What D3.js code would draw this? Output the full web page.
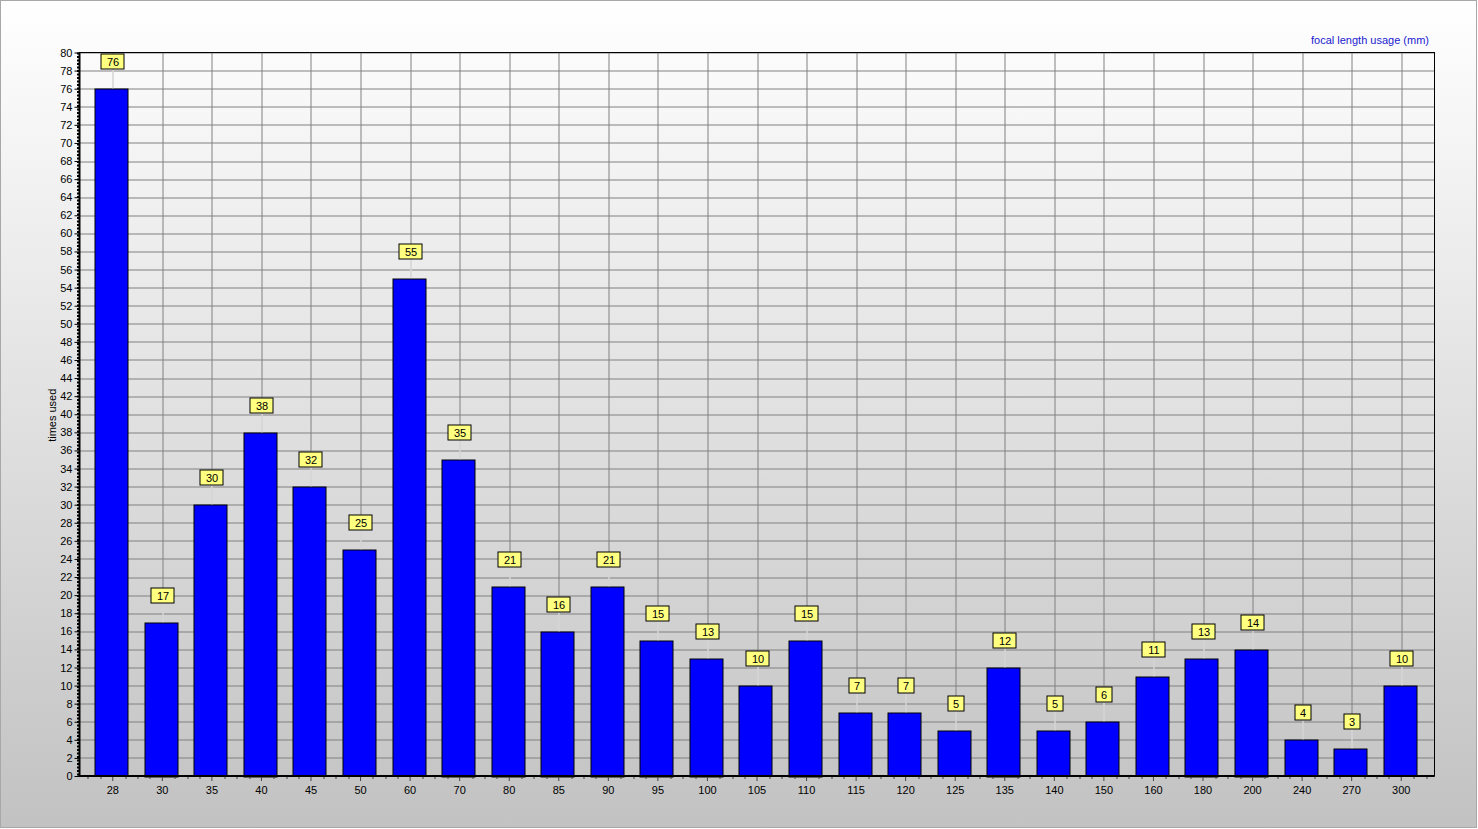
<!DOCTYPE html>
<html>
<head>
<meta charset="utf-8">
<script src="https://cdn.jsdelivr.net/npm/d3@7"></script>
<style>
  body { margin: 0; padding: 0; overflow: hidden; }
  svg text { font-family: "Liberation Sans", Arial, sans-serif; }
</style>
</head>
<body>
<div class="chart"></div>
<script>
// focal length categories (mm) and how often each was used
var focalLengths = ["28", "30", "35", "40", "45", "50", "60", "70", "80", "85", "90", "95", "100", "105",
    "110", "115", "120", "125", "135", "140", "150", "160", "180", "200", "240", "270", "300"];
var timesUsed = [76, 17, 30, 38, 32, 25, 55, 35, 21, 16, 21, 15, 13, 10,
    15, 7, 7, 5, 12, 5, 6, 11, 13, 14, 4, 3, 10];
var yTicks = d3.range(0, 81, 2);

var svgWidth = 1478;
var svgHeight = 829;
var margin = {top: 52.5, right: 43.5, bottom: 53, left: 79.5};
var width = svgWidth - margin.left - margin.right;
var height = svgHeight - margin.top - margin.bottom;
var pad = 8.5;

var data = focalLengths.map(function(f, i) {
    return {focal: f, count: timesUsed[i]};
});

var svg = d3.select(".chart")
    .append("svg")
    .attr("width", svgWidth)
    .attr("height", svgHeight);

// background gradient
var grad = svg.append("defs").append("linearGradient")
    .attr("id", "bg")
    .attr("x1", 0).attr("y1", 0).attr("x2", 0).attr("y2", 1);
grad.append("stop").attr("offset", "0%").attr("stop-color", "#ffffff");
grad.append("stop").attr("offset", "100%").attr("stop-color", "#c2c2c2");

svg.append("rect")
    .attr("x", 0.5).attr("y", 0.5)
    .attr("width", svgWidth - 2).attr("height", svgHeight - 2)
    .attr("fill", "url(#bg)")
    .attr("stroke", "#a8a8a8");

var chart = svg.append("g")
    .attr("transform", "translate(" + margin.left + "," + margin.top + ")");

// scales
var xBandScale = d3.scaleBand()
    .domain(focalLengths)
    .range([pad, width - pad])
    .paddingInner(0.33)
    .paddingOuter(0.165);
var step = xBandScale.step();
var xCenter = function(f) { return xBandScale(f) + xBandScale.bandwidth() / 2; };

var yLinearScale = d3.scaleLinear().domain([0, 80]).range([height, 0]);

// horizontal grid
chart.append("g")
    .selectAll("line")
    .data(yTicks.slice(1))
    .enter().append("line")
    .attr("x1", 0).attr("x2", width)
    .attr("y1", function(d) { return Math.round(yLinearScale(d)) + 0.5; })
    .attr("y2", function(d) { return Math.round(yLinearScale(d)) + 0.5; })
    .attr("stroke", "#808080");

// vertical grid through each category
chart.append("g")
    .selectAll("line")
    .data(focalLengths)
    .enter().append("line")
    .attr("x1", function(d) { return Math.round(xCenter(d)) + 0.5; })
    .attr("x2", function(d) { return Math.round(xCenter(d)) + 0.5; })
    .attr("y1", 0).attr("y2", height)
    .attr("stroke", "#808080");

// frame
chart.append("rect")
    .attr("x", 0).attr("y", 0)
    .attr("width", width).attr("height", height)
    .attr("fill", "none")
    .attr("stroke", "#000");

// bars
chart.selectAll(".bar")
    .data(data)
    .enter().append("rect")
    .attr("class", "bar")
    .attr("x", function(d) { return Math.floor(xBandScale(d.focal)) - 0.5; })
    .attr("width", Math.round(xBandScale.bandwidth()))
    .attr("y", function(d) { return Math.round(yLinearScale(d.count)) + 0.5; })
    .attr("height", function(d) { return Math.round(height - yLinearScale(d.count)); })
    .attr("fill", "#0000ff")
    .attr("stroke", "#000");

// axes
var leftAxis = d3.axisLeft(yLinearScale).tickValues(yTicks).tickSize(5).tickPadding(2);
var yAxis = chart.append("g").attr("class", "y-axis").call(leftAxis);
yAxis.select(".domain").remove();
yAxis.selectAll("text").style("font-size", "11px").attr("fill", "#000");

// minor ticks on y axis
chart.append("line")
    .attr("x1", -1.5).attr("x2", -1.5)
    .attr("y1", 0).attr("y2", height)
    .attr("stroke", "#000").attr("stroke-width", 2)
    .attr("stroke-dasharray", "2,1.5");
chart.append("line")
    .attr("x1", 0).attr("x2", 0)
    .attr("y1", 0).attr("y2", height + 1)
    .attr("stroke", "#000").attr("stroke-width", 2);

// bottom axis with quarter minor ticks
var minor = [];
focalLengths.forEach(function(f) {
    [-0.5, -0.25, 0.25].forEach(function(k) { minor.push(xCenter(f) + k * step); });
});
minor.push(xCenter(focalLengths[focalLengths.length - 1]) + 0.5 * step);
chart.append("g")
    .selectAll("line")
    .data(minor)
    .enter().append("line")
    .attr("x1", function(d) { return Math.round(d) + 0.5; })
    .attr("x2", function(d) { return Math.round(d) + 0.5; })
    .attr("y1", height).attr("y2", height + 3)
    .attr("stroke", "#444");

var bottomAxis = d3.axisBottom(xBandScale).tickSize(5).tickPadding(5);
var xAxis = chart.append("g")
    .attr("class", "x-axis")
    .attr("transform", "translate(0," + height + ")")
    .call(bottomAxis);
xAxis.select(".domain").remove();
xAxis.selectAll("line").attr("stroke", "#444");
xAxis.selectAll("text").style("font-size", "11px").attr("fill", "#000");
chart.append("line")
    .attr("x1", -1).attr("x2", width)
    .attr("y1", height).attr("y2", height)
    .attr("stroke", "#000").attr("stroke-width", 2);

// value labels: white connector + yellow box
var labels = chart.selectAll(".val")
    .data(data)
    .enter().append("g")
    .attr("class", "val")
    .attr("transform", function(d) {
        return "translate(" + Math.round(xCenter(d.focal)) + "," + Math.round(yLinearScale(d.count) - 27) + ")";
    });

labels.append("line")
    .attr("x1", 0.5).attr("x2", 0.5)
    .attr("y1", 7)
    .attr("y2", 27)
    .attr("stroke", "#fff");

labels.append("rect")
    .attr("x", function(d) { return String(d.count).length > 1 ? -11.5 : -7.5; })
    .attr("width", function(d) { return String(d.count).length > 1 ? 23 : 16; })
    .attr("y", -7.5)
    .attr("height", 15)
    .attr("fill", "#ffff80")
    .attr("stroke", "#000");

labels.append("text")
    .attr("x", 0.5)
    .attr("y", 4)
    .attr("text-anchor", "middle")
    .style("font-size", "11px")
    .text(function(d) { return d.count; });

// titles
svg.append("text")
    .attr("x", 1429)
    .attr("y", 44)
    .attr("text-anchor", "end")
    .attr("fill", "#1a1ad0")
    .style("font-size", "11px")
    .text("focal length usage (mm)");

svg.append("text")
    .attr("transform", "translate(56," + (margin.top + height / 2 + 1) + ") rotate(-90)")
    .attr("text-anchor", "middle")
    .style("font-size", "11px")
    .text("times used");
</script>
</body>
</html>
